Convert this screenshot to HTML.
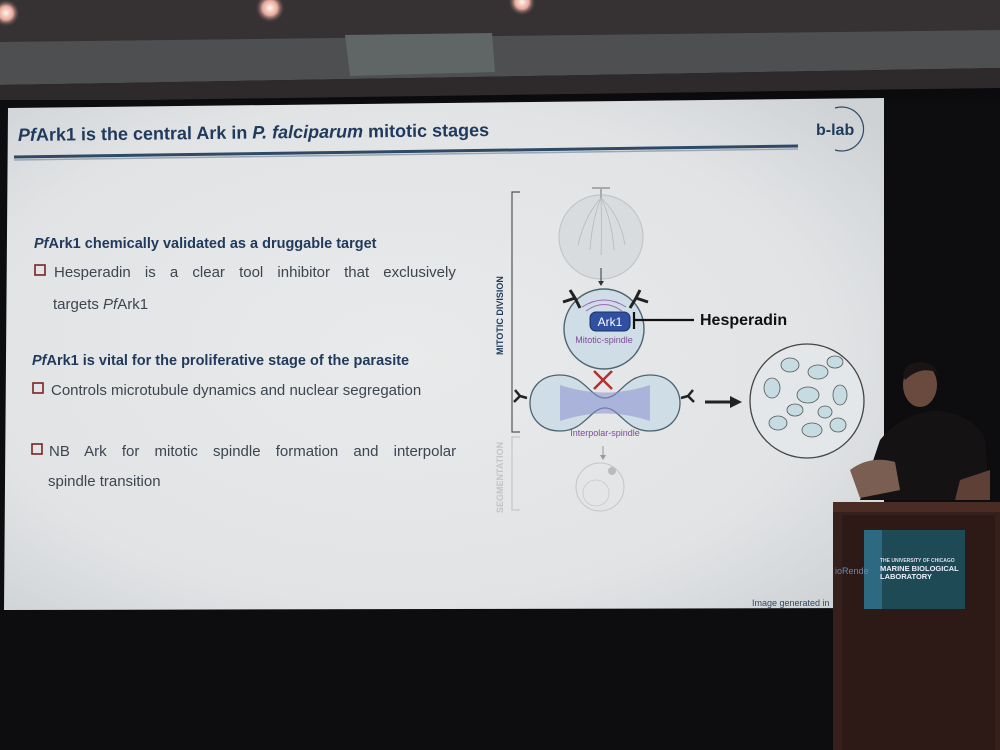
<!DOCTYPE html>
<html><head><meta charset="utf-8"><style>
html,body{margin:0;padding:0;width:1000px;height:750px;overflow:hidden;background:#0b0a0c}
svg{display:block}
text{font-family:"Liberation Sans",sans-serif}
</style></head><body>
<svg width="1000" height="750" viewBox="0 0 1000 750" xmlns="http://www.w3.org/2000/svg">
<defs>
<radialGradient id="scr" cx="0.45" cy="0.5" r="0.7">
<stop offset="0" stop-color="#e9eaeb"/><stop offset="0.7" stop-color="#e1e3e5"/><stop offset="1" stop-color="#cfd2d5"/>
</radialGradient>
<radialGradient id="lamp" cx="0.5" cy="0.5" r="0.5">
<stop offset="0" stop-color="#fff6ee"/><stop offset="0.5" stop-color="#e7a79a"/><stop offset="1" stop-color="#3a3536" stop-opacity="0"/>
</radialGradient>
</defs>
<rect x="0" y="0" width="1000" height="45" fill="#363234"/>
<path d="M0 42 L1000 30 L1000 68 L0 85 Z" fill="#4d4f50"/>
<path d="M0 85 L1000 68 L1000 88 L0 102 Z" fill="#2e2a2b"/>
<rect x="0" y="100" width="1000" height="650" fill="#0d0c0e"/>
<path d="M345 35 L492 33 L495 72 L350 76 Z" fill="#5f6665"/>
<circle cx="6" cy="13" r="14" fill="url(#lamp)"/>
<circle cx="270" cy="8" r="15" fill="url(#lamp)"/>
<circle cx="522" cy="2" r="14" fill="url(#lamp)"/>
<path d="M8 108 L884 98 L884 608 L4 610 Z" fill="url(#scr)"/>
<text x="18" y="141" font-size="18" font-weight="bold" fill="#1f3a5c" transform="rotate(-0.6 18 141)"><tspan font-style="italic">Pf</tspan>Ark1 is the central Ark in <tspan font-style="italic">P. falciparum</tspan> mitotic stages</text>
<path d="M14 157 L798 146" stroke="#2d4a66" stroke-width="3"/>
<path d="M14 160 L798 149" stroke="#9aa6b2" stroke-width="1.5"/>
<path d="M835 108 A22 22 0 1 1 835 150" stroke="#2d4a66" stroke-width="1.2" fill="none"/>
<text x="816" y="135" font-size="16" font-weight="bold" fill="#1f3a5c">b-lab</text>
<g fill="#1f3a5c" font-size="14.5" font-weight="bold">
<text x="34" y="248"><tspan font-style="italic">Pf</tspan>Ark1 chemically validated as a druggable target</text>
<text x="32" y="365"><tspan font-style="italic">Pf</tspan>Ark1 is vital for the proliferative stage of the parasite</text>
</g>
<g fill="#3d4550" font-size="15">
<text x="54" y="277" style="word-spacing:10px">Hesperadin is a clear tool inhibitor that exclusively</text>
<text x="53" y="309">targets <tspan font-style="italic">Pf</tspan>Ark1</text>
<text x="51" y="395">Controls microtubule dynamics and nuclear segregation</text>
<text x="49" y="456" style="word-spacing:11px">NB Ark for mitotic spindle formation and interpolar</text>
<text x="48" y="486">spindle transition</text>
</g>
<g fill="none" stroke="#7a2424" stroke-width="1.6">
<rect x="35" y="265" width="10" height="10"/>
<rect x="33" y="383" width="10" height="10"/>
<rect x="32" y="444" width="10" height="10"/>
</g>
<path d="M520 192 L512 192 L512 432 L520 432" stroke="#555" stroke-width="1.2" fill="none"/>
<path d="M520 437 L512 437 L512 510 L520 510" stroke="#c4c6c8" stroke-width="1.2" fill="none"/>
<text x="0" y="0" font-size="9" font-weight="bold" fill="#1f3a5c" transform="translate(503 355) rotate(-90)">MITOTIC DIVISION</text>
<text x="0" y="0" font-size="9" font-weight="bold" fill="#c2c5c8" transform="translate(503 513) rotate(-90)">SEGMENTATION</text>
<circle cx="601" cy="237" r="42" fill="#d9dcdf" stroke="#c3c6c9" stroke-width="1.2"/>
<path d="M592 188 L610 188 M601 188 L601 198" stroke="#aaa" stroke-width="2"/>
<g stroke="#b6b9bc" fill="none" stroke-width="0.8">
<path d="M601 198 Q585 215 578 245"/><path d="M601 198 Q592 220 590 250"/><path d="M601 198 Q602 225 601 255"/><path d="M601 198 Q612 220 614 250"/><path d="M601 198 Q620 215 625 245"/>
</g>
<path d="M601 268 L601 284" stroke="#333" stroke-width="1"/><path d="M598 281 L601 286 L604 281 Z" fill="#333"/>
<circle cx="604" cy="329" r="40" fill="#cfdde6" stroke="#4e6470" stroke-width="1.4"/>
<path d="M582 307 Q604 293 626 307" stroke="#a066b8" stroke-width="1" fill="none"/>
<path d="M586 311 Q604 298 622 311" stroke="#a066b8" stroke-width="1" fill="none"/>
<path d="M563 302 L575 298 L570 290 M575 298 L580 308" stroke="#222" stroke-width="3" fill="none"/>
<path d="M648 302 L636 298 L640 290 M636 298 L630 308" stroke="#222" stroke-width="3" fill="none"/>
<rect x="590" y="312" width="40" height="19" rx="6" fill="#2f50a3" stroke="#1c2f66"/>
<text x="610" y="326" font-size="12" fill="#fff" text-anchor="middle">Ark1</text>
<text x="604" y="343" font-size="9" fill="#7e4a9a" text-anchor="middle">Mitotic-spindle</text>
<path d="M634 312 L634 329 M634 320 L694 320" stroke="#111" stroke-width="2.2"/>
<text x="700" y="325" font-size="16" font-weight="bold" fill="#111">Hesperadin</text>
<path d="M594 371 L612 389 M612 371 L594 389" stroke="#b33030" stroke-width="2.5"/>
<path d="M560 375 C585 375 590 398 605 398 C620 398 625 375 650 375 C690 375 690 431 650 431 C625 431 620 408 605 408 C590 408 585 431 560 431 C520 431 520 375 560 375 Z" fill="#cfdde6" stroke="#4e6470" stroke-width="1.3"/>
<path d="M560 385 C590 395 620 395 650 385 L650 421 C620 411 590 411 560 421 Z" fill="#8d8fd0" opacity="0.55"/>
<path d="M520 396 L515 390 M520 396 L514 402 M520 396 L527 398" stroke="#222" stroke-width="2.5"/>
<path d="M688 396 L693 390 M688 396 L694 402 M688 396 L681 398" stroke="#222" stroke-width="2.5"/>
<text x="605" y="436" font-size="9" fill="#7e4a9a" text-anchor="middle">Interpolar-spindle</text>
<path d="M603 446 L603 457" stroke="#999" stroke-width="1"/><path d="M600 455 L603 460 L606 455 Z" fill="#999"/>
<circle cx="600" cy="487" r="24" fill="none" stroke="#c3c6c9" stroke-width="1"/>
<circle cx="596" cy="493" r="13" fill="none" stroke="#c9c9cc" stroke-width="0.8"/>
<circle cx="612" cy="471" r="4" fill="#bbb"/>
<path d="M705 402 L732 402" stroke="#222" stroke-width="3"/><path d="M730 396 L742 402 L730 408 Z" fill="#222"/>
<circle cx="807" cy="401" r="57" fill="#e4e7ea" stroke="#444" stroke-width="1.3"/>
<g fill="#c4dce2" stroke="#555" stroke-width="0.8">
<ellipse cx="790" cy="365" rx="9" ry="7"/><ellipse cx="818" cy="372" rx="10" ry="7"/><ellipse cx="835" cy="362" rx="8" ry="6"/>
<ellipse cx="772" cy="388" rx="8" ry="10"/><ellipse cx="808" cy="395" rx="11" ry="8"/><ellipse cx="840" cy="395" rx="7" ry="10"/>
<ellipse cx="778" cy="423" rx="9" ry="7"/><ellipse cx="812" cy="430" rx="10" ry="7"/><ellipse cx="838" cy="425" rx="8" ry="7"/>
<ellipse cx="795" cy="410" rx="8" ry="6"/><ellipse cx="825" cy="412" rx="7" ry="6"/>
</g>
<text x="752" y="606" font-size="9" fill="#2d4a66">Image generated in</text>
<path d="M860 500 L880 440 Q900 415 935 410 Q975 415 985 440 L990 500 Z" fill="#141213"/>
<ellipse cx="920" cy="385" rx="17" ry="22" fill="#6a4a3e"/>
<path d="M903 375 Q905 362 922 362 Q938 364 938 378 L936 372 Q920 366 905 380 Z" fill="#1a1514"/>
<path d="M850 470 Q870 455 895 462 L900 490 L860 498 Z" fill="#7b5e52"/>
<path d="M960 480 L990 470 L990 500 L955 500 Z" fill="#5e4036"/>
<path d="M833 502 L1000 502 L1000 750 L833 750 Z" fill="#35201b"/>
<path d="M833 502 L1000 502 L1000 512 L833 512 Z" fill="#4a2c24"/>
<path d="M842 515 L995 515 L995 750 L842 750 Z" fill="#2d1a16"/>
<rect x="864" y="530" width="101" height="79" fill="#1d4a55"/>
<rect x="864" y="530" width="18" height="79" fill="#3a7fa0" opacity="0.6"/>
<text x="880" y="562" font-size="5" fill="#dde" font-weight="bold">THE UNIVERSITY OF CHICAGO</text>
<text x="880" y="571" font-size="7.5" fill="#eef" font-weight="bold">MARINE BIOLOGICAL</text>
<text x="880" y="579" font-size="7.5" fill="#eef" font-weight="bold">LABORATORY</text>
<text x="835" y="574" font-size="9" fill="#6a88a8">ioRende</text>
</svg>
</body></html>
